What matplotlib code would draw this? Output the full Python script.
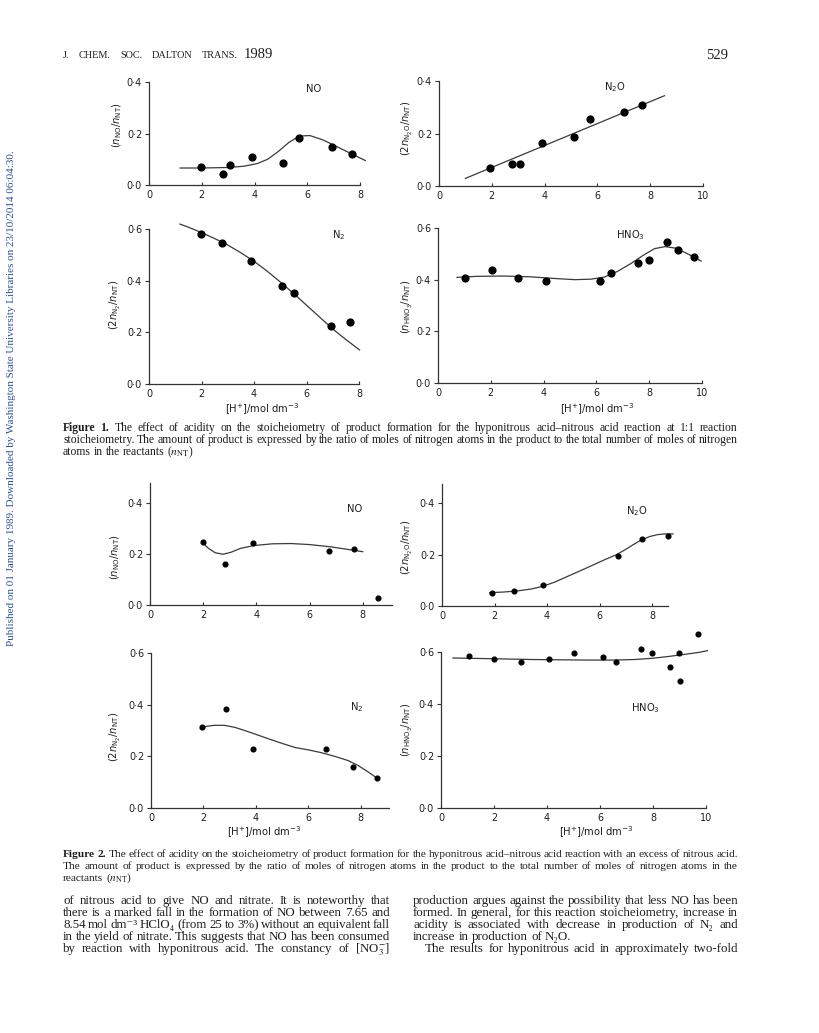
import matplotlib
matplotlib.use('Agg')
import matplotlib.pyplot as plt

W, H = 819, 1033

# ------------------------------------------------------------------ data
# Figure 1 (1:1 stoicheiometry)
fig1_no_x = [1.97, 2.79, 3.08, 3.91, 5.07, 5.70, 6.95, 7.69]
fig1_no_y = [0.069, 0.043, 0.077, 0.108, 0.086, 0.184, 0.149, 0.122]
fig1_no_curve_x = [1.18, 2.0, 3.0, 3.6, 4.1, 4.5, 4.9, 5.3, 5.7, 6.1, 6.6, 7.0, 7.5, 8.2]
fig1_no_curve_y = [0.066, 0.066, 0.068, 0.073, 0.083, 0.100, 0.130, 0.165, 0.190, 0.192,
                   0.175, 0.155, 0.130, 0.095]

fig1_n2o_x = [1.95, 2.77, 3.08, 3.91, 5.10, 5.71, 6.99, 7.68]
fig1_n2o_y = [0.069, 0.084, 0.084, 0.165, 0.187, 0.257, 0.282, 0.308]
fig1_n2o_line_x = [1.0, 8.54]
fig1_n2o_line_y = [0.029, 0.344]

fig1_n2_x = [1.98, 2.78, 3.89, 5.07, 5.52, 6.92, 7.67]
fig1_n2_y = [0.581, 0.545, 0.477, 0.379, 0.351, 0.226, 0.240]
fig1_n2_curve_x = [1.18, 1.5, 2.0, 2.5, 3.0, 3.5, 4.0, 4.5, 5.0, 5.5, 6.0, 6.5, 7.0, 7.5, 8.02]
fig1_n2_curve_y = [0.619, 0.607, 0.586, 0.563, 0.538, 0.508, 0.475, 0.437, 0.395, 0.351,
                   0.305, 0.259, 0.213, 0.172, 0.132]

fig1_hno3_x = [1.04, 2.04, 3.04, 4.08, 6.14, 6.54, 7.56, 7.99, 8.67, 9.10, 9.68]
fig1_hno3_y = [0.405, 0.439, 0.408, 0.396, 0.396, 0.425, 0.465, 0.475, 0.547, 0.515, 0.486]
fig1_hno3_curve_x = [0.72, 1.5, 2.5, 3.5, 4.5, 5.2, 5.8, 6.3, 6.8, 7.3, 7.8, 8.2, 8.6, 9.0,
                     9.4, 9.97]
fig1_hno3_curve_y = [0.409, 0.413, 0.414, 0.411, 0.404, 0.400, 0.402, 0.410, 0.432, 0.462,
                     0.496, 0.520, 0.528, 0.522, 0.503, 0.472]

# Figure 2 (excess of nitrous acid)
fig2_no_x = [2.01, 2.82, 3.89, 6.72, 7.67, 8.59]
fig2_no_y = [0.246, 0.159, 0.245, 0.210, 0.218, 0.029]
fig2_no_curve_x = [2.01, 2.2, 2.45, 2.75, 3.05, 3.4, 3.9, 4.6, 5.3, 6.0, 6.8, 7.5, 8.0]
fig2_no_curve_y = [0.241, 0.222, 0.205, 0.199, 0.207, 0.222, 0.233, 0.240, 0.241, 0.237,
                   0.228, 0.217, 0.209]

fig2_n2o_x = [1.90, 2.73, 3.85, 6.70, 7.62, 8.61]
fig2_n2o_y = [0.052, 0.059, 0.080, 0.195, 0.261, 0.271]
fig2_n2o_curve_x = [1.82, 2.3, 2.83, 3.4, 3.85, 4.3, 4.74, 5.25, 5.75, 6.2, 6.64, 7.0, 7.28,
                    7.6, 7.92, 8.2, 8.5, 8.8]
fig2_n2o_curve_y = [0.052, 0.054, 0.058, 0.066, 0.077, 0.093, 0.113, 0.136, 0.159, 0.180,
                    0.199, 0.220, 0.238, 0.257, 0.270, 0.277, 0.280, 0.280]

fig2_n2_x = [1.96, 2.84, 3.90, 6.68, 7.70, 8.61]
fig2_n2_y = [0.314, 0.383, 0.229, 0.228, 0.158, 0.118]
fig2_n2_curve_x = [1.88, 2.1, 2.4, 2.8, 3.2, 3.6, 4.0, 4.5, 5.0, 5.5, 6.0, 6.5, 7.0, 7.5,
                   7.9, 8.3, 8.61]
fig2_n2_curve_y = [0.306, 0.316, 0.320, 0.320, 0.312, 0.299, 0.285, 0.267, 0.250, 0.234,
                   0.225, 0.214, 0.200, 0.184, 0.164, 0.138, 0.116]

fig2_hno3_x = [1.05, 2.00, 3.00, 4.06, 5.01, 6.12, 6.62, 7.56, 7.98, 8.65, 8.97, 9.01, 9.69]
fig2_hno3_y = [0.586, 0.572, 0.563, 0.572, 0.596, 0.579, 0.560, 0.613, 0.596, 0.541, 0.597,
               0.487, 0.669]
fig2_hno3_curve_x = [0.45, 1.5, 2.5, 3.5, 4.5, 5.5, 6.5, 7.3, 8.0, 8.6, 9.2, 9.7, 10.05]
fig2_hno3_curve_y = [0.577, 0.575, 0.573, 0.571, 0.570, 0.569, 0.569, 0.571, 0.576, 0.583,
                     0.591, 0.598, 0.605]

xticks_8 = [0, 2, 4, 6, 8]
xticks_10 = [0, 2, 4, 6, 8, 10]
yticks_04 = [0.0, 0.2, 0.4]
yticks_06 = [0.0, 0.2, 0.4, 0.6]

INK = '#1e1e1e'
AXC = '#333333'
SERIF = ['Liberation Serif', 'DejaVu Serif']

fig = plt.figure(figsize=(W / 100, H / 100), dpi=100)
fig.patch.set_facecolor('white')
renderer = fig.canvas.get_renderer()


def tick_fmt(v):
    return ('%.1f' % v).replace('.', '\u00b7')


def make_axes(x0, x1, ytop, ybot, xlim, ylim, xticks, yticks):
    ax = fig.add_axes([x0 / W, 1 - ybot / H, (x1 - x0) / W, (ybot - ytop) / H])
    ax.set_xlim(*xlim)
    ax.set_ylim(*ylim)
    ax.patch.set_alpha(0)
    for s in ('top', 'right'):
        ax.spines[s].set_visible(False)
    for s in ('left', 'bottom'):
        ax.spines[s].set_linewidth(0.9)
        ax.spines[s].set_color(AXC)
    ax.set_xticks(xticks)
    ax.set_xticklabels([str(v) for v in xticks])
    ax.set_yticks(yticks)
    ax.set_yticklabels([tick_fmt(v) for v in yticks])
    ax.tick_params(axis='x', direction='in', length=2.5, width=0.8, pad=3.5,
                   labelsize=6.9, colors=AXC, labelcolor=INK)
    ax.tick_params(axis='y', direction='out', length=3, width=0.8, pad=2,
                   labelsize=6.9, colors=AXC, labelcolor=INK)
    return ax


def draw(ax, px, py, cx, cy, ms):
    ax.plot(cx, cy, '-', color='#3a3a3a', lw=0.9, clip_on=False, zorder=2)
    ax.plot(px, py, 'o', color='black', ms=ms, mec='black', clip_on=False, zorder=3)


def ftext(x, y, s, **kw):
    return fig.text(x / W, 1 - y / H, s, **kw)


MS1, MS2 = 4.9, 3.4

# ------------------------------------------------------------------ Figure 1 panels
ax = make_axes(149, 360, 82, 185, (0, 8), (0, 0.4), xticks_8, yticks_04)
draw(ax, fig1_no_x, fig1_no_y, fig1_no_curve_x, fig1_no_curve_y, MS1)

ax = make_axes(439, 703, 81, 186, (0, 10), (0, 0.4), xticks_10, yticks_04)
draw(ax, fig1_n2o_x, fig1_n2o_y, fig1_n2o_line_x, fig1_n2o_line_y, MS1)

ax = make_axes(149, 359, 229, 384, (0, 8), (0, 0.6), xticks_8, yticks_06)
draw(ax, fig1_n2_x, fig1_n2_y, fig1_n2_curve_x, fig1_n2_curve_y, MS1)

ax = make_axes(438, 702, 228, 383, (0, 10), (0, 0.6), xticks_10, yticks_06)
draw(ax, fig1_hno3_x, fig1_hno3_y, fig1_hno3_curve_x, fig1_hno3_curve_y, MS1)

# ------------------------------------------------------------------ Figure 2 panels
ax = make_axes(150, 392, 482.6, 605, (0, 9.1), (0, 0.48), xticks_8, yticks_04)
draw(ax, fig2_no_x, fig2_no_y, fig2_no_curve_x, fig2_no_curve_y, MS2)

ax = make_axes(442, 667.75, 483.7, 606, (0, 8.6), (0, 0.475), xticks_8, yticks_04)
draw(ax, fig2_n2o_x, fig2_n2o_y, fig2_n2o_curve_x, fig2_n2o_curve_y, MS2)

ax = make_axes(151, 389, 653, 808, (0, 9.07), (0, 0.6), xticks_8, yticks_06)
draw(ax, fig2_n2_x, fig2_n2_y, fig2_n2_curve_x, fig2_n2_curve_y, MS2)

ax = make_axes(441, 706, 652, 808, (0, 10), (0, 0.6), xticks_10, yticks_06)
draw(ax, fig2_hno3_x, fig2_hno3_y, fig2_hno3_curve_x, fig2_hno3_curve_y, MS2)

# ------------------------------------------------------------------ panel labels
lab_kw = dict(fontsize=7.2, color=INK, ha='center', va='center', family='DejaVu Sans')
panel_titles = [
    ('NO', 314, 89), ('N$_2$O', 615, 87), ('N$_2$', 339, 235), ('HNO$_3$', 630, 235),
    ('NO', 355, 509), ('N$_2$O', 637, 511), ('N$_2$', 357, 707), ('HNO$_3$', 645, 708),
]
for s, x, y in panel_titles:
    ftext(x, y, s, **lab_kw)

ylab_kw = dict(fontsize=7.2, color=INK, ha='center', va='center', rotation=90)
ylabels = [
    (r'$(n_{\rm NO}/n_{\rm NT})$', 117, 125),
    (r'$(2n_{\rm N_2O}/n_{\rm NT})$', 407, 128),
    (r'$(2n_{\rm N_2}/n_{\rm NT})$', 115, 305),
    (r'$(n_{\rm HNO_3}/n_{\rm NT})$', 407, 307),
    (r'$(n_{\rm NO}/n_{\rm NT})$', 115, 557),
    (r'$(2n_{\rm N_2O}/n_{\rm NT})$', 407, 547),
    (r'$(2n_{\rm N_2}/n_{\rm NT})$', 115, 737),
    (r'$(n_{\rm HNO_3}/n_{\rm NT})$', 407, 730),
]
for s, x, y in ylabels:
    ftext(x, y, s, **ylab_kw)

xlab = r'[H$^{+}$]/mol dm$^{-3}$'
for x, y in [(262, 409), (597, 409), (264, 832), (596, 832)]:
    ftext(x, y, xlab, fontsize=7.2, color=INK, ha='center', va='center')


# ------------------------------------------------------------------ page text
def split_words(s):
    words, cur, inmath = [], '', False
    for ch in s:
        if ch == '$':
            inmath = not inmath
        if ch == ' ' and not inmath:
            words.append(cur)
            cur = ''
        else:
            cur += ch
    words.append(cur)
    return [w for w in words if w]


def word_widths(words, size, bold_n, family):
    out = []
    for i, w in enumerate(words):
        t = fig.text(0, 0, w, fontsize=size, family=family,
                     weight='bold' if i < bold_n else 'normal', math_fontfamily='stix')
        out.append(t.get_window_extent(renderer).width)
        t.remove()
    return out


def set_block(lines, x1, y0, dy, size, family=SERIF, color=INK, min_gap=0.2):
    """lines: list of (text, justify, bold_n, x0). One common font size per block."""
    em = size * 100 / 72.0
    scale = 1.0
    for text, just, nb, x0 in lines:
        if not just:
            continue
        words = split_words(text)
        wsum = sum(word_widths(words, size, nb, family))
        avail = x1 - x0 - min_gap * em * (len(words) - 1)
        scale = min(scale, avail / wsum)
    size = size * scale
    em = size * 100 / 72.0
    for k, (text, just, nb, x0) in enumerate(lines):
        words = split_words(text)
        widths = word_widths(words, size, nb, family)
        if just and len(words) > 1:
            gap = (x1 - x0 - sum(widths)) / (len(words) - 1)
        else:
            gap = 0.25 * em
        x = x0
        y = y0 + dy * k
        for i, (w, wd) in enumerate(zip(words, widths)):
            ftext(x, y, w, fontsize=size, family=family,
                  weight='bold' if i < nb else 'normal', va='baseline', ha='left',
                  color=color, math_fontfamily='stix')
            x += wd + gap


# header
set_block([('J. CHEM. SOC. DALTON TRANS.', True, 0, 63)], 238, 58, 0, 7.4)
ftext(244, 58, '1989', fontsize=10.5, family=SERIF, color=INK, va='baseline')
ftext(728, 59, '529', fontsize=10.5, family=SERIF, color=INK, va='baseline', ha='right')

# side note
side = ('Published on 01 January 1989. Downloaded by Washington State University '
        'Libraries on 23/10/2014 06:04:30.')
st = ftext(12, 398, side, fontsize=7.5, family=SERIF, color='#2f4f9f',
           rotation=90, ha='center', va='center')
h = st.get_window_extent(renderer).height
st.set_fontsize(7.5 * 495.0 / h)

# captions
cap1 = [
    ('Figure 1. The effect of acidity on the stoicheiometry of product formation for the '
     'hyponitrous acid\u2013nitrous acid reaction at 1:1 reaction', True, 2, 63),
    ('stoicheiometry. The amount of product is expressed by the ratio of moles of nitrogen '
     'atoms in the product to the total number of moles of nitrogen', True, 0, 63),
    (r'atoms in the reactants ($n_{\rm NT}$)', False, 0, 63),
]
cap2 = [
    ('Figure 2. The effect of acidity on the stoicheiometry of product formation for the '
     'hyponitrous acid\u2013nitrous acid reaction with an excess of nitrous acid.', True, 2, 63),
    ('The amount of product is expressed by the ratio of moles of nitrogen atoms in the '
     'product to the total number of moles of nitrogen atoms in the', True, 0, 63),
    (r'reactants ($n_{\rm NT}$)', False, 0, 63),
]
set_block(cap1, 738, 431, 12, 8.4)
set_block(cap2, 738, 857, 12, 8.4)

# body text
left_col = [
    ('of nitrous acid to give NO and nitrate. It is noteworthy that', True, 0, 63),
    ('there is a marked fall in the formation of NO between 7.65 and', True, 0, 63),
    ('8.54 mol dm\u207b\u00b3 HClO\u2084 (from 25 to 3%) without an equivalent fall', True, 0, 63),
    ('in the yield of nitrate. This suggests that NO has been consumed', True, 0, 63),
    (r'by reaction with hyponitrous acid. The constancy of [NO$_3^{-}$]', True, 0, 63),
]
right_col = [
    ('production argues against the possibility that less NO has been', True, 0, 413),
    ('formed. In general, for this reaction stoicheiometry, increase in', True, 0, 413),
    ('acidity is associated with decrease in production of N\u2082 and', True, 0, 413),
    ('increase in production of N\u2082O.', False, 0, 413),
    ('The results for hyponitrous acid in approximately two-fold', True, 0, 425),
]
set_block(left_col, 390, 904, 12, 9.4)
set_block(right_col, 738, 904, 12, 9.4)

fig.savefig('out.png', dpi=100, facecolor='white')
